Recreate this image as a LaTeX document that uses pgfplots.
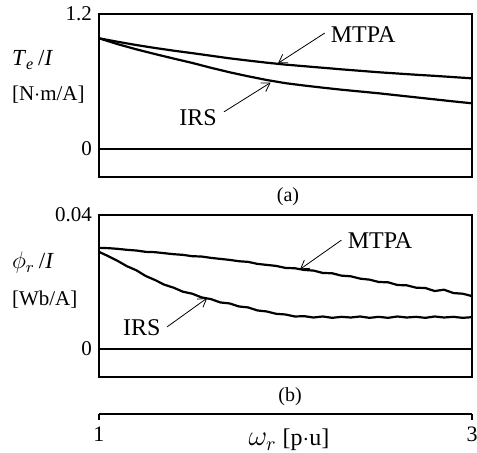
\documentclass[border=0pt]{standalone}
\usepackage{fontspec}
\setmainfont{Liberation Serif}
\usepackage{pgfplots}
\pgfplotsset{compat=1.18}
\usetikzlibrary{arrows.meta}

\pgfplotsset{
  panel/.style={
    scale only axis, width=186.5pt, anchor=north west,
    xmin=1, xmax=3, xtick=\empty,
    axis line style={line width=0.8pt},
    major tick length=0pt,
    scaled y ticks=false,
    tick label style={font=\fontsize{10.5}{12}\selectfont},
    /pgf/number format/assume math mode=true,
  },
  curve/.style={black, line width=1.1pt, no markers},
  zeroline/.style={black, line width=0.6pt, no markers},
}
\tikzset{
  note/.style={font=\fontsize{12}{14}\selectfont},
  pointer/.style={-{Straight Barb[length=4pt,width=5pt]}, line width=0.4pt},
}

\begin{document}
\begin{tikzpicture}
\path[use as bounding box] (0,0) rectangle (238.5pt,-226.5pt);

% (a) torque per ampere
\begin{axis}[panel, at={(49.5pt,-7pt)}, height=81.5pt,
    ymin=-0.249, ymax=1.2, ytick={0,1.2}, yticklabels={0,1.2}]
\addplot[zeroline] coordinates {(1,0) (3,0)};
\addplot[curve] coordinates {
 (1.0,0.984) (1.1,0.953) (1.2,0.924) (1.3,0.898) (1.4,0.874) (1.5,0.852)
 (1.6,0.829) (1.7,0.806) (1.8,0.786) (1.9,0.767) (2.0,0.750) (2.1,0.736)
 (2.2,0.722) (2.3,0.708) (2.4,0.695) (2.5,0.682) (2.6,0.671) (2.7,0.660)
 (2.8,0.650) (2.9,0.639) (3.0,0.628)};
\addplot[curve] coordinates {
 (1.0,0.984) (1.1,0.932) (1.2,0.886) (1.3,0.844) (1.4,0.804) (1.5,0.765)
 (1.6,0.722) (1.7,0.682) (1.8,0.646) (1.9,0.613) (2.0,0.585) (2.1,0.564)
 (2.2,0.545) (2.3,0.527) (2.4,0.511) (2.5,0.495) (2.6,0.477) (2.7,0.459)
 (2.8,0.441) (2.9,0.423) (3.0,0.406)};
\node[note] at (axis cs:2.416,1.02) {MTPA};
\draw[pointer] (axis cs:2.21,1.03) -- (axis cs:1.96,0.762);
\node[note] at (axis cs:1.531,0.276) {IRS};
\draw[pointer] (axis cs:1.67,0.33) -- (axis cs:1.92,0.59);
\end{axis}

% (b) flux per ampere
\begin{axis}[panel, at={(49.5pt,-107.5pt)}, height=81pt,
    ymin=-0.00836, ymax=0.04, ytick={0,0.04}, yticklabels={0,0.04}]
\addplot[zeroline] coordinates {(1,0) (3,0)};
\addplot[curve] coordinates {
 (1.00,0.0302) (1.05,0.0301) (1.10,0.0299) (1.15,0.0296) (1.20,0.0294)
 (1.25,0.0290) (1.30,0.0289) (1.35,0.0286) (1.40,0.0283) (1.45,0.0281)
 (1.50,0.0277) (1.55,0.0276) (1.60,0.0272) (1.65,0.0269) (1.70,0.0266)
 (1.75,0.0262) (1.80,0.0260) (1.85,0.0254) (1.90,0.0251) (1.95,0.0248)
 (2.00,0.0242) (2.05,0.0241) (2.10,0.0236) (2.15,0.0234) (2.20,0.0227)
 (2.25,0.0226) (2.30,0.0219) (2.35,0.0217) (2.40,0.0210) (2.45,0.0207)
 (2.50,0.0200) (2.55,0.0199) (2.60,0.0191) (2.65,0.0190) (2.70,0.0183)
 (2.75,0.0182) (2.80,0.0173) (2.85,0.0177) (2.90,0.0167) (2.95,0.0165)
 (3.00,0.0158)};
\addplot[curve] coordinates {
 (1.00,0.0290) (1.05,0.0277) (1.10,0.0263) (1.15,0.0247) (1.20,0.0235)
 (1.25,0.0218) (1.30,0.0206) (1.35,0.0192) (1.40,0.0183) (1.45,0.0171)
 (1.50,0.0165) (1.55,0.0154) (1.60,0.0149) (1.65,0.0139) (1.70,0.0136)
 (1.75,0.0127) (1.80,0.0124) (1.85,0.0115) (1.90,0.0112) (1.95,0.0105)
 (2.00,0.0103) (2.05,0.0097) (2.10,0.0098) (2.15,0.0094) (2.20,0.0097)
 (2.25,0.0093) (2.30,0.0096) (2.35,0.0094) (2.40,0.0097) (2.45,0.0093)
 (2.50,0.0096) (2.55,0.0093) (2.60,0.0097) (2.65,0.0094) (2.70,0.0096)
 (2.75,0.0093) (2.80,0.0097) (2.85,0.0094) (2.90,0.0096) (2.95,0.0093)
 (3.00,0.0095)};
\node[note] at (axis cs:2.507,0.0325) {MTPA};
\draw[pointer] (axis cs:2.30,0.0325) -- (axis cs:2.078,0.0238);
\node[note] at (axis cs:1.23,0.0063) {IRS};
\draw[pointer] (axis cs:1.365,0.0066) -- (axis cs:1.58,0.0152);
\end{axis}

% shared speed axis
\begin{axis}[scale only axis, width=186.5pt, height=5pt,
    anchor=south west, at={(49.5pt,-207pt)},
    xmin=1, xmax=3, ymin=0, ymax=1,
    axis x line*=bottom, hide y axis,
    axis line style={line width=0.6pt},
    xtick={1,3}, tick align=outside, major tick length=3pt,
    xtick style={black, line width=0.6pt},
    tick label style={font=\fontsize{11}{13}\selectfont},
    /pgf/number format/assume math mode=true]
\addplot[draw=none] coordinates {(1,0) (3,0)};
\end{axis}

\node[font=\fontsize{12}{14}\selectfont] at (144.5pt,-220pt)
  {{\fontsize{14}{16}\selectfont$\omega_r$}\ [p$\cdot$u]};
\node[font=\fontsize{10}{12}\selectfont] at (144pt,-98.5pt) {(a)};
\node[font=\fontsize{10}{12}\selectfont] at (145pt,-198.5pt) {(b)};

\node[anchor=west, font=\fontsize{11.5}{13}\selectfont] at (2.5pt,-30pt)
  {\textit{T}\textsubscript{\textit{e}}\,/\textit{I}};
\node[anchor=west, font=\fontsize{10.5}{12}\selectfont] at (2.5pt,-47.5pt) {[N$\cdot$m/A]};
\node[anchor=west, font=\fontsize{11.5}{13}\selectfont] at (2.5pt,-131.5pt)
  {$\phi_r$\,/\textit{I}};
\node[anchor=west, font=\fontsize{10.5}{12}\selectfont] at (2.5pt,-150pt) {[Wb/A]};
\end{tikzpicture}
\end{document}
